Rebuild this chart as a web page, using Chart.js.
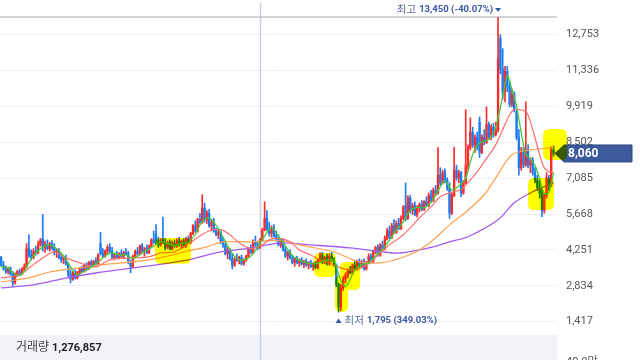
<!DOCTYPE html>
<html><head><meta charset="utf-8">
<script src="https://cdn.jsdelivr.net/npm/chart.js@4.4.1/dist/chart.umd.min.js"></script>
<style>html,body{margin:0;padding:0;background:#fff;overflow:hidden}#wrap{width:640px;height:360px;position:relative}</style>
</head><body><div id="wrap"><canvas id="c" width="640" height="360"></canvas></div>
<script>
// ---- OHLC (index 0..239) ----
const openP = [3950,3650,3500,3400,3520,3300,2950,3280,3400,3300,3480,3600,4300,4050,3950,4200,4150,4450,4700,4350,
4450,4300,4500,4350,4150,4200,3950,3850,3950,3700,3300,3100,3350,3150,3380,3500,3400,3650,3500,3750,
3600,3800,3700,4500,4100,4000,4200,4350,4200,3950,4050,3950,4100,4000,4150,4100,3750,3600,4000,4200,
4100,4400,4200,4300,4150,4400,4650,4900,4600,4450,4650,4550,4350,4550,4300,4500,4400,4600,4450,4600,
4400,4700,4550,4900,5200,5000,5450,5350,5900,5450,5700,5200,5350,5000,4850,4950,4550,4450,4100,4250,
3900,3650,3900,3850,3950,3700,3850,4000,4300,4150,4550,4450,4350,4650,5050,5500,5100,4900,5100,4800,
4700,4450,4600,4250,4000,4150,3950,3750,3900,3750,3850,3700,3800,3650,3750,3600,3700,3550,3850,4050,
3750,3950,3700,4000,3850,3650,2900,2000,2750,3100,3250,3450,3350,3650,3500,3800,3600,3800,3500,3750,
4000,3800,4200,4350,4050,4450,4300,4700,5000,4750,5200,4950,5300,5100,5500,6000,5500,6300,5800,6000,
5650,5900,6050,5850,6150,6000,6400,6200,6600,6500,7200,6900,7300,7000,6700,5700,6400,7400,7100,7300,
6500,6900,7600,8300,8900,8400,8700,9300,8100,8700,8500,9200,8700,9100,8800,9000,12600,11400,10500,11300,
10700,10000,10400,9700,8700,7500,8100,7600,8200,7600,7800,7300,7000,6700,6500,5800,6400,7100,6800,8200];
const highP = [4000,3800,3620,3560,3580,3400,3350,3450,3500,3550,3700,4500,4850,4250,4300,4400,4600,4700,5650,4600,
4650,4550,4620,4500,4300,4300,4100,4000,4050,3750,3500,3400,3450,3400,3550,3600,3700,3750,3800,3850,
3850,3950,4100,4950,4300,4250,4450,4500,4350,4100,4200,4150,4250,4200,4300,4200,3850,4050,4250,4350,
4450,4500,4350,4450,4450,4700,5000,5250,4750,4700,5550,4700,4600,4650,4600,4650,4700,4750,4650,4700,
4750,4800,4950,5250,5400,5500,5700,6430,6100,5800,5850,5450,5500,5100,5050,5000,4750,4550,4350,4300,
4100,3950,4100,4000,4050,3900,4050,4350,4450,4650,4800,4600,4700,5100,6150,5800,5350,5200,5250,5000,
4850,4700,4700,4400,4200,4250,4050,3950,4000,3900,3950,3850,3900,3800,3850,3750,3800,3900,4150,4150,
4000,4100,4100,4150,3950,3700,2950,2900,3200,3350,3500,3600,3700,3800,3850,3900,3850,3900,3800,4100,
4100,4250,4400,4450,4500,4600,4800,5100,5200,5300,5450,5400,5500,5600,6000,6900,6400,6400,6100,6150,
6000,6100,6200,6200,6350,6500,6600,6700,6800,8290,7500,7400,7450,7100,6900,6500,8300,7600,7400,7350,
7000,9790,8400,9470,9100,8800,8900,9500,8800,9000,9900,9300,9200,9250,9300,13450,12750,12200,11500,11500,
10900,10600,10500,9800,9000,8300,8300,10100,8400,7900,7900,7500,7200,7000,6700,6500,7300,7200,8330,8350];
const lowP = [3600,3450,3320,3300,3250,2820,2900,3200,3250,3280,3400,3550,3950,3850,3900,4050,4100,4400,4200,4150,
4250,4200,4250,4050,3950,3900,3750,3700,3650,3200,2950,3050,3100,3100,3300,3350,3380,3450,3480,3550,
3580,3650,3680,4050,3950,3950,4100,4150,3900,3850,3900,3900,3950,3900,4050,3700,3350,3550,3950,4050,
4050,4150,4000,4100,4100,4350,4500,4500,4350,4400,4500,4250,4300,4250,4250,4350,4350,4400,4300,4350,
4350,4500,4500,4850,4950,4950,5300,5300,5350,5300,5150,5000,4950,4800,4700,4500,4350,4050,3900,3850,
3500,3600,3800,3700,3650,3650,3800,3950,4100,4100,4400,4250,4300,4600,5000,5000,4800,4750,4750,4600,
4400,4350,4200,3950,3850,3900,3700,3600,3700,3600,3650,3550,3600,3500,3550,3450,3500,3500,3800,3700,
3700,3650,3650,3800,3600,2800,1795,1850,2650,2950,3150,3300,3300,3450,3450,3550,3550,3450,3450,3700,
3750,3750,4100,4000,4000,4250,4250,4650,4700,4700,4900,4900,5050,5050,5450,5400,5450,5700,5650,5600,
5550,5750,5800,5800,5950,5950,6150,6150,6400,6450,6800,6850,6900,6600,5500,5650,6350,7000,6900,6350,
6450,6850,7400,8200,8300,8100,8200,7900,8050,8400,8450,8600,8600,8700,8750,8900,11200,10200,10100,10500,
9900,9900,9700,8600,7200,7400,7500,7550,7500,7300,7200,6900,6600,6300,5560,5700,6300,6600,6750,7950];
const closeP = [3650,3500,3400,3520,3300,2950,3280,3400,3300,3480,3600,4300,4050,3950,4200,4150,4450,4650,4350,4450,
4300,4500,4350,4150,4200,3950,3850,3950,3700,3300,3100,3350,3150,3380,3500,3400,3650,3500,3750,3600,
3800,3700,4050,4100,4000,4200,4350,4200,3950,4050,3950,4100,4000,4150,4100,3750,3600,4000,4200,4100,
4400,4200,4300,4150,4400,4650,4550,4600,4450,4650,4550,4350,4550,4300,4500,4400,4600,4450,4600,4400,
4700,4550,4900,5200,5000,5450,5350,5900,5450,5700,5200,5350,5000,4850,4950,4550,4450,4100,4250,3900,
3650,3900,3850,3950,3700,3850,4000,4300,4150,4550,4450,4350,4650,5050,5500,5100,4900,5100,4800,4700,
4450,4600,4250,4000,4150,3950,3750,3900,3750,3850,3700,3800,3650,3750,3600,3700,3550,3850,4050,3750,
3950,3700,4000,3850,3650,2900,2000,2750,3100,3250,3450,3350,3650,3500,3800,3600,3800,3500,3750,4000,
3800,4200,4350,4050,4450,4300,4700,5000,4750,5200,4950,5300,5100,5500,5950,5500,6300,5800,6000,5650,
5900,6050,5850,6150,6000,6400,6200,6600,6500,7200,6900,7300,7000,6700,5700,6400,7400,7100,7300,6500,
6900,7600,8300,8900,8400,8700,8300,8100,8700,8500,9200,8700,9100,8800,9000,11800,11400,10500,11300,10700,
10000,10400,9800,8700,7500,8100,7600,8200,7600,7800,7300,7000,6700,6500,5800,6400,7100,6800,8200,8060];

// ---- moving averages (index, value) ----
const ma5Idx = [0,3,6,9,12,15,18,21,24,27,30,33,36,39,42,45,48,51,54,57,60,63,66,69,72,75,78,81,84,87,90,93,96,99,102,105,108,111,114,117,120,123,126,129,132,135,138,141,144,146,147,148,149,150,153,156,159,162,165,168,171,174,177,180,183,186,189,192,195,198,201,204,207,210,213,215,217,219,221,223,225,227,229,231,233,235,237,239];
const ma5Val = [3600,3520,3290,3280,3750,4130,4360,4450,4300,4020,3580,3260,3420,3580,3780,4010,4140,4050,4060,3920,4060,4230,4410,4580,4510,4420,4510,4540,4870,5380,5520,5220,4760,4250,3910,3850,4000,4360,4800,5130,4790,4400,4020,3840,3750,3700,3750,3860,3830,3280,3030,2880,2800,2910,3440,3670,3730,4020,4270,4640,5040,5360,5810,5930,5920,6120,6580,6980,6620,6780,7080,8020,8480,8560,8860,9480,10300,11140,10580,9920,8900,8020,7860,7580,7060,6480,6520,7310];
const ma20Idx = [0,8,12,18,23,28,34,41,47,56,64,69,75,82,86,90,95,99,103,108,113,116,121,125,129,134,138,142,147,151,155,160,164,168,173,177,181,186,190,194,199,201,205,209,214,218,220,222,227,229,231,233,235,237,239];
const ma20Val = [3145,3260,3540,3935,4170,3935,3740,3580,3860,3935,3975,4130,4170,4550,4800,5000,5050,4850,4530,4300,4450,4650,4700,4570,4250,4050,3850,3740,3540,3460,3500,3780,4130,4450,4770,5120,5520,5950,6350,6510,6630,6820,7220,7730,8400,9200,9590,9790,9710,9310,8680,8010,7490,7340,7300];
const ma60Idx = [0,12,21,34,43,64,83,89,96,109,116,123,129,144,155,164,173,181,187,195,201,209,214,221,229,239];
const ma60Val = [2987,3150,3380,3540,3660,3860,4250,4370,4570,4570,4620,4600,4450,4170,3780,3740,3930,4250,4650,5320,5740,6430,7100,8010,8200,8290];
const ma120Idx = [0,14,28,41,64,81,95,108,121,134,151,165,173,187,194,202,215,222,230,239];
const ma120Val = [2750,2870,3140,3340,3620,3860,4170,4320,4530,4450,4330,4170,4130,4370,4570,4770,5440,6110,6550,6900];

// ---- axis / labels ----
const yTicks = [1417,2834,4251,5668,7085,8502,9919,11336,12753];
const yMin = 891, yMax = 13450;
const separatorIndex = 112;
const highText = '최고', highNum = '13,450 (-40.07%)';
const lowText = '최저', lowNum = '1,795 (349.03%)';
const volText = '거래량', volNum = '1,276,857', volTick = '40.0만';
// highlighter marks (index range, price range)
const highlights = [
  {i0:66.6, i1:82.1, v0:3700, v1:4720},
  {i0:135.4, i1:144.9, v0:3180, v1:4130},
  {i0:146.6, i1:155.3, v0:2670, v1:3775},
  {i0:144.5, i1:150.1, v0:1800, v1:3260},
  {i0:228.0, i1:239.2, v0:5830, v1:7090},
  {i0:234.5, i1:244.8, v0:7800, v1:9030}
];

const UP = '#ff2b2b', DOWN = '#1c7cf2';
const idx = closeP.map((_, i) => i);
const colors = idx.map(i => closeP[i] >= openP[i] ? UP : DOWN);
const pts = (ix, vals) => ix.map((x, k) => ({x, y: vals[k]}));
const FONT = 'Roboto, "Noto Sans CJK KR", sans-serif';

function rr(ctx, x, y, w, h, r) {
  ctx.beginPath();
  ctx.moveTo(x + r, y); ctx.lineTo(x + w - r, y); ctx.quadraticCurveTo(x + w, y, x + w, y + r);
  ctx.lineTo(x + w, y + h - r); ctx.quadraticCurveTo(x + w, y + h, x + w - r, y + h);
  ctx.lineTo(x + r, y + h); ctx.quadraticCurveTo(x, y + h, x, y + h - r);
  ctx.lineTo(x, y + r); ctx.quadraticCurveTo(x, y, x + r, y); ctx.closePath();
}

const overlay = {
  id: 'overlay',
  beforeDatasetsDraw(chart) {
    const {ctx, chartArea: a, scales: {x, y}} = chart;
    ctx.save();
    ctx.fillStyle = '#f2f3f8';
    ctx.fillRect(a.left, a.bottom, a.right - a.left, chart.height - a.bottom);
    const sx = Math.round(x.getPixelForValue(separatorIndex)) + 0.5;
    ctx.strokeStyle = '#c8cedc'; ctx.lineWidth = 1.5;
    ctx.beginPath(); ctx.moveTo(sx, 3); ctx.lineTo(sx, chart.height); ctx.stroke();
    const my = y.getPixelForValue(Math.max(...highP));
    ctx.strokeStyle = '#c0c4cd'; ctx.lineWidth = 1.5;
    ctx.beginPath(); ctx.moveTo(a.left, my); ctx.lineTo(a.right, my); ctx.stroke();
    ctx.restore();
  },
  afterDraw(chart) {
    const {ctx, chartArea: a, scales: {x, y}} = chart;
    ctx.save();
    // high label
    const hi = Math.max(...highP), hiI = highP.indexOf(hi);
    const hx = x.getPixelForValue(hiI), hy = y.getPixelForValue(hi) - 7;
    ctx.fillStyle = '#3a58a3';
    ctx.beginPath(); ctx.moveTo(hx - 3, hy - 2); ctx.lineTo(hx + 3, hy - 2); ctx.lineTo(hx, hy + 2); ctx.closePath(); ctx.fill();
    ctx.textBaseline = 'middle'; ctx.textAlign = 'right';
    ctx.font = 'bold 9.5px ' + FONT;
    ctx.fillText(highNum, hx - 5, hy);
    const w1 = ctx.measureText(highNum).width;
    ctx.font = '10.5px ' + FONT; ctx.fillStyle = '#5d6c98';
    ctx.fillText(highText, hx - 5 - w1 - 3, hy);
    // low label
    const lo = Math.min(...lowP), loI = lowP.indexOf(lo);
    const lx = x.getPixelForValue(loI), ly = y.getPixelForValue(lo) + 9;
    ctx.fillStyle = '#3a58a3';
    ctx.beginPath(); ctx.moveTo(lx - 3, ly + 2); ctx.lineTo(lx + 3, ly + 2); ctx.lineTo(lx, ly - 2.5); ctx.closePath(); ctx.fill();
    ctx.textAlign = 'left';
    ctx.font = '10.5px ' + FONT; ctx.fillStyle = '#5d6c98';
    ctx.fillText(lowText, lx + 6, ly);
    const w2 = ctx.measureText(lowText).width;
    ctx.font = 'bold 9.5px ' + FONT; ctx.fillStyle = '#3a58a3';
    ctx.fillText(lowNum, lx + 6 + w2 + 3, ly);
    // volume text
    ctx.font = '12px ' + FONT; ctx.fillStyle = '#444';
    ctx.fillText(volText, 16, a.bottom + 13);
    const w3 = ctx.measureText(volText).width;
    ctx.font = 'bold 11px ' + FONT; ctx.fillStyle = '#222';
    ctx.fillText(volNum, 16 + w3 + 3, a.bottom + 13);
    ctx.font = '11px ' + FONT; ctx.fillStyle = '#555'; ctx.textBaseline = 'top';
    ctx.fillText(volTick, a.right + 9, chart.height - 3);
    // current price tag
    const last = closeP[closeP.length - 1];
    const ty = y.getPixelForValue(last);
    const tip = a.right - 2, bx = tip + 9, bw = 632 - bx;
    ctx.fillStyle = '#3d5a9c'; ctx.strokeStyle = '#2f4a88'; ctx.lineWidth = 1;
    ctx.beginPath(); ctx.moveTo(tip, ty); ctx.lineTo(bx, ty - 8.5); ctx.lineTo(bx + bw, ty - 8.5);
    ctx.lineTo(bx + bw, ty + 8.5); ctx.lineTo(bx, ty + 8.5); ctx.closePath(); ctx.fill(); ctx.stroke();
    ctx.fillStyle = '#fff'; ctx.font = 'bold 12px ' + FONT; ctx.textBaseline = 'middle'; ctx.textAlign = 'left';
    ctx.fillText(last.toLocaleString('en-US'), a.right + 11, ty + 0.5);
    // highlighter marks
    ctx.globalCompositeOperation = 'multiply';
    ctx.fillStyle = '#ffff00';
    highlights.forEach(h => {
      const x0 = x.getPixelForValue(h.i0), x1 = x.getPixelForValue(h.i1);
      const y0 = y.getPixelForValue(h.v1), y1 = y.getPixelForValue(h.v0);
      rr(ctx, x0, y0, x1 - x0, y1 - y0, 6); ctx.fill();
    });
    ctx.restore();
  }
};

new Chart(document.getElementById('c'), {
  type: 'bar',
  data: {
    datasets: [
      {type:'line', data: pts(ma5Idx, ma5Val), borderColor:'#45cc35', borderWidth:1.3, pointRadius:0, tension:0.3, order:0},
      {type:'line', data: pts(ma20Idx, ma20Val), borderColor:'#ff6e6e', borderWidth:1.2, pointRadius:0, tension:0.3, order:1},
      {type:'line', data: pts(ma60Idx, ma60Val), borderColor:'#ffa150', borderWidth:1.2, pointRadius:0, tension:0.3, order:2},
      {type:'line', data: pts(ma120Idx, ma120Val), borderColor:'#a35cf0', borderWidth:1.3, pointRadius:0, tension:0.3, order:3},
      {data: idx.map(i => ({x:i, y:[openP[i], closeP[i]]})), backgroundColor: colors, barThickness: 1.7, grouped:false, order:4},
      {data: idx.map(i => ({x:i, y:[lowP[i], highP[i]]})), backgroundColor: colors, barThickness: 1, grouped:false, order:5}
    ]
  },
  options: {
    responsive: false, animation: false, devicePixelRatio: 1,
    layout: {padding: {top:17, bottom:25, left:0, right:0}},
    plugins: {legend:{display:false}, tooltip:{enabled:false}},
    scales: {
      x: {type:'linear', min:-0.5, max:240.5, display:false, offset:false},
      y: {
        type:'linear', position:'right', min:yMin, max:yMax,
        afterBuildTicks: s => { s.ticks = yTicks.map(v => ({value:v})); },
        afterFit: s => { s.width = 83; },
        ticks: {callback: v => v.toLocaleString('en-US'), font:{size:11, family:FONT}, color:'#555', padding:9},
        grid: {color:'#eef0f5', drawTicks:false},
        border: {display:false}
      }
    }
  },
  plugins: [overlay]
});
</script></body></html>
